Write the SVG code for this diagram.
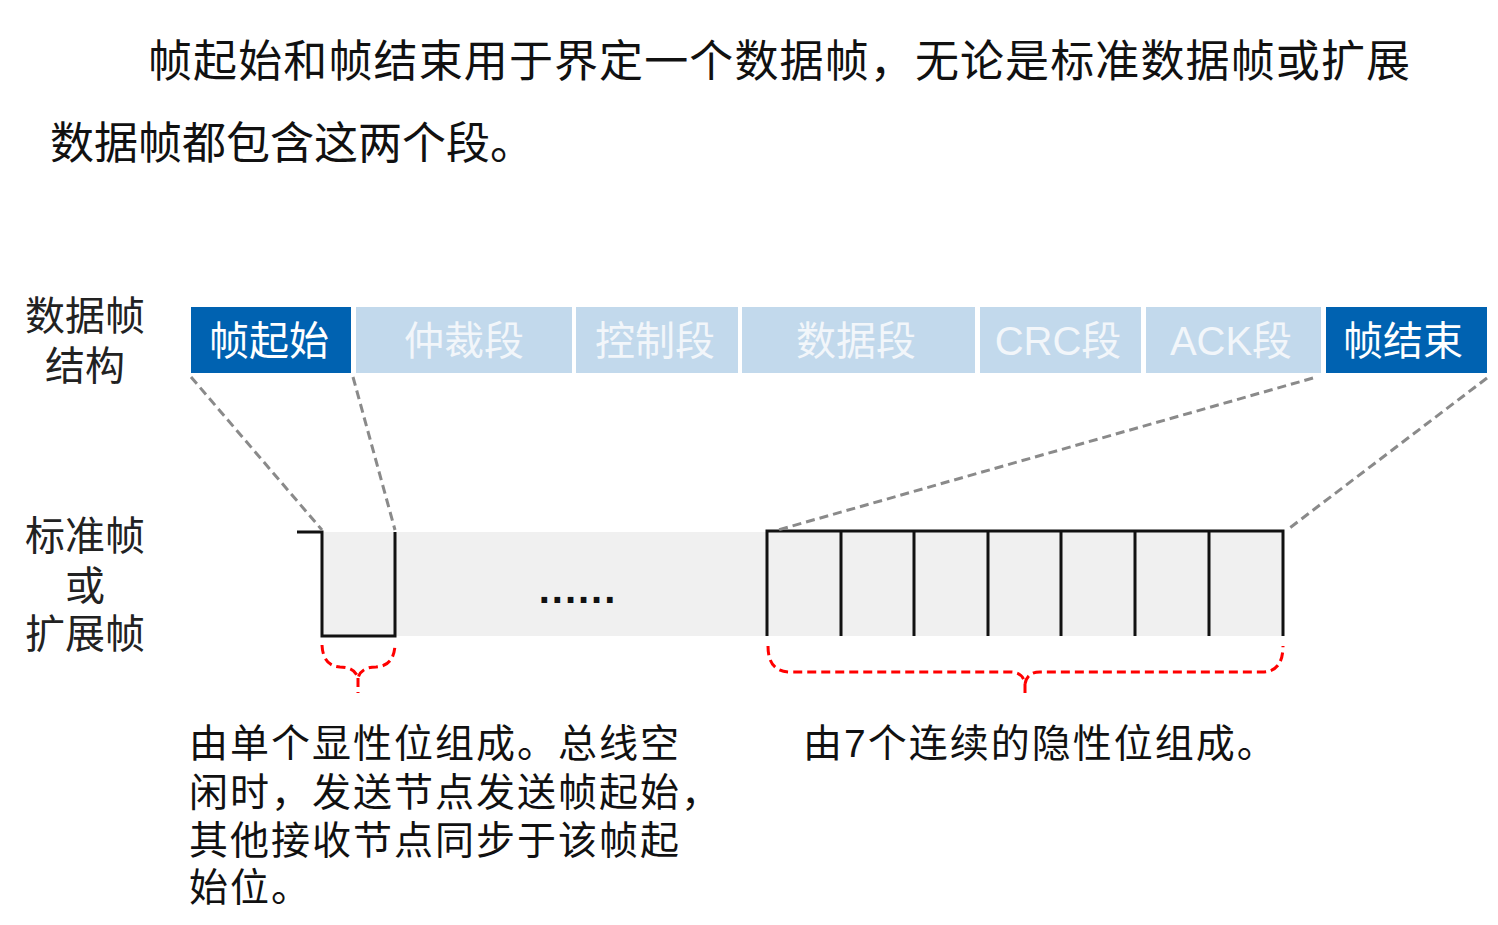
<svg xmlns="http://www.w3.org/2000/svg" width="1498" height="925" viewBox="0 0 1498 925">
<style>
text{font-family:"Liberation Sans","Noto Sans CJK SC",sans-serif;}
.h{font-size:44px;fill:#111;}
.lbl{font-size:40px;fill:#222;text-anchor:middle;}
.dk{fill:#0062B1;}
.lt{fill:#C2D9EC;}
.tw{font-size:40px;fill:#fff;text-anchor:middle;}
.tl{font-size:40px;fill:#F2F6FA;text-anchor:middle;}
.sig{fill:none;stroke:#111;stroke-width:3;}
.gd{fill:none;stroke:#8a8a8a;stroke-width:3;stroke-dasharray:9,5;}
.rd{fill:none;stroke:#f00;stroke-width:3;stroke-dasharray:9,5;}
.bt{font-size:39px;fill:#111;letter-spacing:2px;}
</style>
<rect width="1498" height="925" fill="#fff"/>
<g id="heading">
<text class="h" x="148" y="77" textLength="1262" lengthAdjust="spacing">帧起始和帧结束用于界定一个数据帧，无论是标准数据帧或扩展</text>
<text class="h" x="50" y="159">数据帧都包含这两个段。</text>
</g>
<g id="label-structure">
<text class="lbl" x="85" y="330">数据帧</text>
<text class="lbl" x="85" y="380">结构</text>
</g>
<g id="label-frame">
<text class="lbl" x="85" y="550">标准帧</text>
<text class="lbl" x="85" y="600">或</text>
<text class="lbl" x="85" y="648">扩展帧</text>
</g>
<g id="seg-sof"><rect class="dk" x="191" y="307" width="160" height="66"/><text class="tw" x="269" y="355">帧起始</text></g>
<g id="seg-arb"><rect class="lt" x="356" y="307" width="216" height="66"/><text class="tl" x="464" y="355">仲裁段</text></g>
<g id="seg-ctrl"><rect class="lt" x="576" y="307" width="162" height="66"/><text class="tl" x="655" y="355">控制段</text></g>
<g id="seg-data"><rect class="lt" x="742" y="307" width="233" height="66"/><text class="tl" x="856" y="355">数据段</text></g>
<g id="seg-crc"><rect class="lt" x="980" y="307" width="161" height="66"/><text class="tl" x="1058" y="355">CRC段</text></g>
<g id="seg-ack"><rect class="lt" x="1146" y="307" width="175" height="66"/><text class="tl" x="1231" y="355">ACK段</text></g>
<g id="seg-eof"><rect class="dk" x="1326" y="307" width="161" height="66"/><text class="tw" x="1403" y="355">帧结束</text></g>
<g id="signal">
<rect x="322" y="532" width="961" height="104" fill="#f0f0f0"/>
<path class="sig" d="M297,532 H322 V636 H395 V532"/>
<path class="sig" d="M767,636 V531 H1283 V636 M841,531 V636 M914,531 V636 M988,531 V636 M1061,531 V636 M1135,531 V636 M1209,531 V636"/>
<text x="578" y="603" font-size="40" font-weight="bold" fill="#111" text-anchor="middle" letter-spacing="2">......</text>
</g>
<g id="connectors">
<path class="gd" d="M191,377 L322,530"/>
<path class="gd" d="M353,377 L395,530"/>
<path class="gd" d="M1313,378 L778,530"/>
<path class="gd" d="M1487,378 L1287,530"/>
<path class="rd" d="M322,645 Q323,666 340,667 Q355,667 358,678 Q361,667 376,667 Q394,666 395,645 M358,678 V693"/>
<path class="rd" d="M768,646 Q768,672 790,672 H1010 Q1023,672 1025,684 Q1027,672 1040,672 H1262 Q1283,672 1283,646 M1025,684 V697"/>
</g>
<g id="note-sof">
<text class="bt" x="189" y="757">由单个显性位组成。总线空</text>
<text class="bt" x="189" y="806">闲时，发送节点发送帧起始，</text>
<text class="bt" x="189" y="854">其他接收节点同步于该帧起</text>
<text class="bt" x="189" y="901">始位。</text>
</g>
<g id="note-eof">
<text class="bt" x="803" y="757">由7个连续的隐性位组成。</text>
</g>
</svg>
